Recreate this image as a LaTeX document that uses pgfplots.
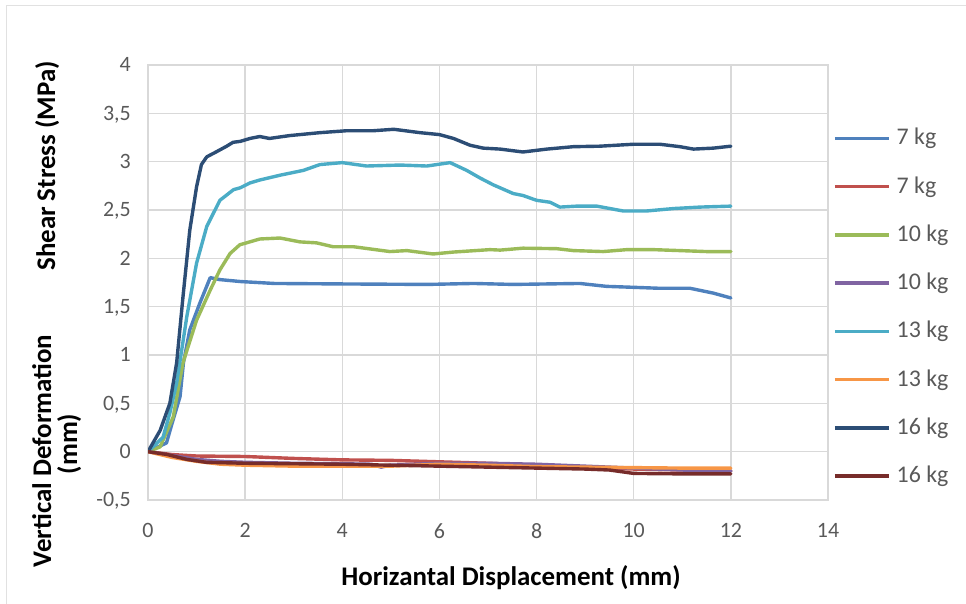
\documentclass[border=0pt]{standalone}
\usepackage{fontspec}
\setmainfont{Carlito}
\usepackage{pgfplots}
\pgfplotsset{compat=1.18}
\definecolor{sBlue}{HTML}{4F81BD}
\definecolor{sRed}{HTML}{C0504D}
\definecolor{sGreen}{HTML}{9BBB59}
\definecolor{sPurple}{HTML}{8064A2}
\definecolor{sCyan}{HTML}{4BACC6}
\definecolor{sOrange}{HTML}{F79646}
\definecolor{sNavy}{HTML}{2C4D75}
\definecolor{sDarkRed}{HTML}{772C2A}
\definecolor{gridc}{HTML}{D9D9D9}
\definecolor{tickc}{HTML}{595959}

\pgfplotstableread{
x y
0 0
0.38 0.09
0.5 0.3
0.66 0.57
0.73 0.92
0.86 1.26
1.07 1.54
1.2 1.7
1.28 1.80
1.48 1.78
1.9 1.76
2.6 1.74
4.0 1.735
5.75 1.73
6.7 1.74
7.52 1.73
8.89 1.74
9.44 1.71
10.0 1.70
10.54 1.69
11.16 1.69
11.64 1.64
12 1.59
}\shearA

\pgfplotstableread{
x y
0 0
0.5 -0.03
1 -0.045
2 -0.05
3 -0.07
4 -0.085
5 -0.09
6 -0.105
7 -0.12
8 -0.14
9 -0.16
10 -0.18
11 -0.19
12 -0.2
}\vertA

\pgfplotstableread{
x y
0 0
0.25 0.05
0.52 0.36
0.72 0.92
1.0 1.36
1.28 1.67
1.48 1.88
1.69 2.05
1.89 2.14
2.3 2.20
2.72 2.21
3.13 2.17
3.47 2.16
3.81 2.12
4.23 2.12
4.98 2.07
5.33 2.08
5.87 2.045
6.29 2.065
7.04 2.09
7.25 2.085
7.72 2.105
8.41 2.10
8.76 2.08
9.37 2.07
9.86 2.09
10.4 2.09
10.95 2.08
11.5 2.07
12 2.07
}\shearB

\pgfplotstableread{
x y
0 0
0.5 -0.04
1 -0.08
1.5 -0.1
2 -0.11
3 -0.12
4 -0.125
4.6 -0.13
4.8 -0.16
5 -0.14
6 -0.12
7 -0.12
8 -0.13
9 -0.15
10 -0.17
11 -0.19
12 -0.2
}\vertB

\pgfplotstableread{
x y
0 0
0.31 0.15
0.45 0.4
0.59 0.71
0.8 1.4
1.0 1.95
1.21 2.33
1.48 2.6
1.76 2.71
1.9 2.73
2.1 2.78
2.3 2.81
2.72 2.86
3.2 2.91
3.54 2.97
4.0 2.99
4.5 2.955
5.19 2.965
5.74 2.955
6.22 2.99
6.56 2.91
6.84 2.83
7.11 2.76
7.52 2.67
7.72 2.65
8.0 2.60
8.28 2.58
8.48 2.53
8.83 2.54
9.24 2.54
9.78 2.49
10.27 2.49
10.82 2.515
11.36 2.53
12 2.54
}\shearC

\pgfplotstableread{
x y
0 0
0.5 -0.06
1 -0.1
1.5 -0.13
2 -0.14
3 -0.15
4 -0.15
5 -0.15
6 -0.13
7 -0.14
8 -0.155
9 -0.16
10 -0.165
11 -0.17
12 -0.17
}\vertC

\pgfplotstableread{
x y
0 0
0.25 0.22
0.45 0.5
0.59 0.92
0.72 1.6
0.86 2.29
1.0 2.74
1.1 2.97
1.21 3.05
1.4 3.1
1.62 3.16
1.75 3.2
1.9 3.21
2.1 3.24
2.3 3.26
2.5 3.24
2.92 3.27
3.54 3.30
4.09 3.32
4.64 3.32
5.06 3.335
5.6 3.30
6.0 3.28
6.29 3.24
6.63 3.17
6.9 3.14
7.25 3.13
7.72 3.10
8.21 3.13
8.76 3.155
9.3 3.16
9.99 3.18
10.54 3.18
10.95 3.155
11.23 3.13
11.64 3.14
12 3.16
}\shearD

\pgfplotstableread{
x y
0 0
0.4 -0.03
0.8 -0.08
1.2 -0.11
2 -0.12
3 -0.125
4 -0.13
5 -0.14
6 -0.15
7 -0.16
8 -0.17
9 -0.18
9.5 -0.19
10 -0.225
11 -0.23
12 -0.23
}\vertD

\begin{document}
\begin{tikzpicture}
\useasboundingbox (0bp,0bp) rectangle (966bp,604bp);
\draw[gridc!80, line width=1.5bp] (6.5bp,-20bp) -- (6.5bp,598.5bp) -- (990bp,598.5bp);
\begin{axis}[
  at={(148bp,104bp)}, anchor=south west,
  scale only axis, width=680bp, height=435bp,
  xmin=0, xmax=14, ymin=-0.5, ymax=4,
  xtick={0,2,...,14}, ytick={-0.5,0,0.5,1,1.5,2,2.5,3,3.5,4},
  grid=major,
  grid style={draw=gridc, line width=1.3bp},
  axis line style={draw=gridc, line width=1.3bp},
  major tick length=0pt,
  /pgf/number format/assume math mode=true,
  /pgf/number format/use comma,
  /pgf/number format/fixed,
  tick label style={font=\fontsize{22}{24}\selectfont, text=tickc, inner sep=0pt},
  yticklabel style={anchor=base east, xshift=-17bp, yshift=-7bp},
  xticklabel style={anchor=north, yshift=-23bp},
  legend cell align=left,
  legend style={draw=none, fill=none,
    at={(axis description cs:1.0074,0.4432)}, anchor=west,
    inner sep=0pt, row sep=27.25bp, column sep=6bp,
    font=\fontsize{24}{26}\selectfont, text=tickc,
    nodes={inner sep=0pt, text height=17bp, text depth=4bp}},
  legend image code/.code={\draw[#1, line cap=butt] (0bp,0bp) -- (54bp,0bp);},
  every axis plot/.append style={line width=3.4bp, line join=round, line cap=round},
]
\addplot[sBlue] table {\shearA}; \addlegendentry{7 kg}
\addplot[sRed] table {\vertA}; \addlegendentry{7 kg}
\addplot[sGreen] table {\shearB}; \addlegendentry{10 kg}
\addplot[sPurple] table {\vertB}; \addlegendentry{10 kg}
\addplot[sCyan] table {\shearC}; \addlegendentry{13 kg}
\addplot[sOrange] table {\vertC}; \addlegendentry{13 kg}
\addplot[sNavy] table {\shearD}; \addlegendentry{16 kg}
\addplot[sDarkRed] table {\vertD}; \addlegendentry{16 kg}
\end{axis}
\node[anchor=base, font=\fontsize{27}{29}\selectfont\bfseries] at (511bp,19bp) {Horizantal Displacement (mm)};
\node[anchor=base, rotate=90, font=\fontsize{27}{29}\selectfont\bfseries] at (55bp,438bp) {Shear Stress (MPa)};
\node[anchor=base, rotate=90, font=\fontsize{27}{29}\selectfont\bfseries] at (51bp,153bp) {Vertical Deformation};
\node[anchor=base, rotate=90, font=\fontsize{27}{29}\selectfont\bfseries] at (77bp,160bp) {(mm)};
\end{tikzpicture}
\end{document}
